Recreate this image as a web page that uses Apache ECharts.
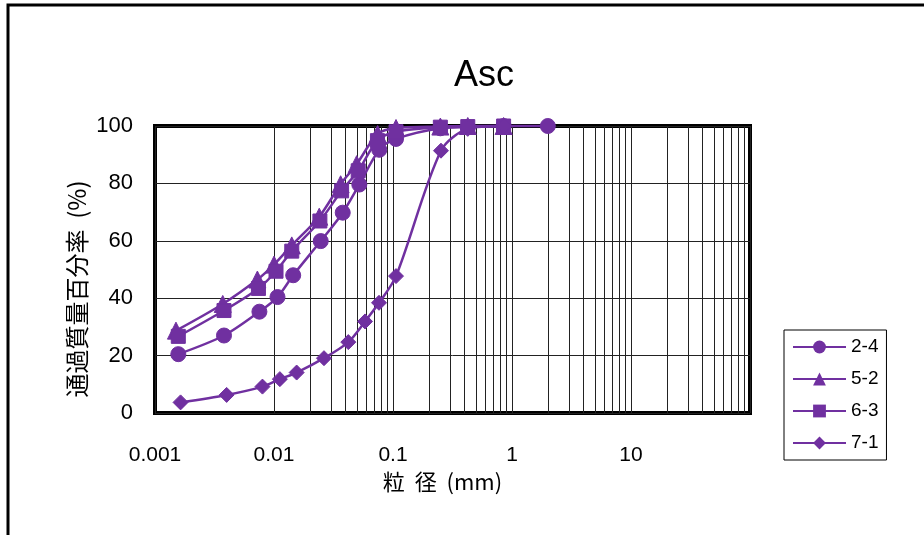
<!DOCTYPE html>
<html>
<head>
<meta charset="utf-8">
<script src="https://cdn.jsdelivr.net/npm/echarts@6/dist/echarts.min.js"></script>
<style>
html,body{margin:0;padding:0;background:#fff;}
#chart{width:924px;height:535px;}
</style>
</head>
<body>
<div id="chart"></div>
<script>
// ---- data ----
const seriesNames = ['2-4', '5-2', '6-3', '7-1'];
const x24 = [0.00157, 0.0038, 0.00754, 0.0107, 0.0145, 0.0247, 0.0378, 0.0521, 0.0767, 0.106, 0.25, 0.425, 0.85, 2.0];
const y24 = [20.5, 27.0, 35.3, 40.4, 48.0, 59.9, 69.8, 79.6, 91.7, 95.5, 99.2, 99.6, 100, 100];
const x52 = [0.0015, 0.00371, 0.00725, 0.0100, 0.0141, 0.0240, 0.0363, 0.0495, 0.0743, 0.106, 0.25, 0.425, 0.85];
const y52 = [28.7, 38.0, 46.5, 51.7, 58.4, 68.4, 79.7, 86.7, 97.2, 99.3, 99.8, 100, 100];
const x63 = [0.00157, 0.0038, 0.0074, 0.0104, 0.0141, 0.0243, 0.0370, 0.0510, 0.0740, 0.106, 0.25, 0.425, 0.85];
const y63 = [26.7, 35.7, 43.4, 49.4, 56.4, 66.9, 77.4, 84.4, 94.9, 98.0, 99.6, 99.8, 100];
const x71 = [0.00164, 0.0040, 0.0080, 0.0112, 0.0155, 0.0263, 0.0421, 0.0582, 0.0763, 0.106, 0.253, 0.425, 0.85];
const y71 = [3.7, 6.3, 9.2, 11.8, 14.1, 19.1, 24.7, 31.9, 38.4, 47.7, 91.4, 99.0, 100];
const xTickLabels = ['0.001', '0.01', '0.1', '1', '10'];
const yTicks = [0, 20, 40, 60, 80, 100];

// minor log grid positions (2..9 within each decade)
const minorX = [];
[0.001, 0.01, 0.1, 1, 10].forEach(d => { for (let m = 2; m <= 9; m++) minorX.push(+(d * m).toPrecision(3)); });

const purple = '#7030A0';
const latin = '"Liberation Sans", Arial, "Noto Sans CJK JP", sans-serif';
const cjk = '"Noto Sans CJK JP", "Liberation Sans", sans-serif';

function pairs(xs, ys) { return xs.map((x, i) => [x, ys[i]]); }

const symbols = ['circle', 'triangle', 'rect', 'diamond'];
const sizes = [15, 17, 14, 15];
const datas = [pairs(x24, y24), pairs(x52, y52), pairs(x63, y63), pairs(x71, y71)];

const series = [{
  name: 'minor',
  type: 'line',
  data: [],
  silent: true,
  z: 1,
  markLine: {
    silent: true,
    symbol: ['none', 'none'],
    label: { show: false },
    lineStyle: { color: '#222', width: 1, type: 'solid' },
    emphasis: { disabled: true },
    animation: false,
    data: minorX.map(v => ({ xAxis: v }))
  }
}];
seriesNames.forEach((n, i) => {
  series.push({
    name: n,
    type: 'line',
    data: datas[i],
    smooth: 0.3,
    symbol: symbols[i],
    symbolSize: sizes[i],
    z: 5 + i,
    clip: false,
    lineStyle: { color: purple, width: 2.5 },
    itemStyle: { color: purple, borderColor: purple },
    emphasis: { disabled: true }
  });
});

const chart = echarts.init(document.getElementById('chart'), null, { renderer: 'canvas' });
chart.setOption({
  animation: false,
  backgroundColor: '#fff',
  title: {
    text: 'Asc',
    left: 449,
    top: 53,
    textStyle: { fontFamily: latin, fontSize: 36, fontWeight: 'normal', color: '#000' }
  },
  grid: {
    left: 155, top: 126, width: 595, height: 287,
    show: true, borderColor: '#000', borderWidth: 4, backgroundColor: 'transparent'
  },
  legend: {
    data: seriesNames.map(n => ({ name: n })),
    orient: 'vertical',
    left: 784,
    top: 330,
    padding: [7, 8, 7, 8],
    itemWidth: 53,
    itemHeight: 16,
    itemGap: 12,
    borderColor: '#000',
    borderWidth: 1,
    backgroundColor: '#fff',
    textStyle: { fontFamily: latin, fontSize: 19, color: '#000', lineHeight: 20 }
  },
  xAxis: {
    type: 'log',
    logBase: 10,
    min: 0.001,
    max: 100,
    name: '粒  径  (mm)',
    nameLocation: 'middle',
    nameGap: 57,
    nameTextStyle: { fontFamily: cjk, fontSize: 22, color: '#000', padding: [0, 20, 0, 0] },
    axisLine: { show: false },
    axisTick: { show: false },
    axisLabel: {
      margin: 32,
      fontFamily: latin, fontSize: 21, color: '#000',
      formatter: function (v) {
        const lbl = xTickLabels.find(t => Math.abs(parseFloat(t) - v) / v < 1e-6);
        return lbl || '';
      }
    },
    splitLine: { show: true, lineStyle: { color: '#222', width: 1 } }
  },
  yAxis: {
    type: 'value',
    min: yTicks[0],
    max: yTicks[yTicks.length - 1],
    interval: 20,
    axisLine: { show: false },
    axisTick: { show: false },
    axisLabel: { margin: 22, fontFamily: latin, fontSize: 22, color: '#000' },
    splitLine: { show: true, lineStyle: { color: '#222', width: 1 } }
  },
  graphic: [
    {
      type: 'rect', z: -1, silent: true,
      shape: { x: 8, y: 5, width: 1000, height: 600 },
      style: { fill: 'none', stroke: '#000', lineWidth: 3 }
    },
    {
      type: 'text', x: 77, y: 289, rotation: Math.PI / 2, silent: true,
      style: {
        text: '通過質量百分率  (%)', fontFamily: cjk, fontSize: 24, fill: '#000',
        align: 'center', verticalAlign: 'middle'
      }
    }
  ],
  series: series
});
</script>
</body>
</html>
